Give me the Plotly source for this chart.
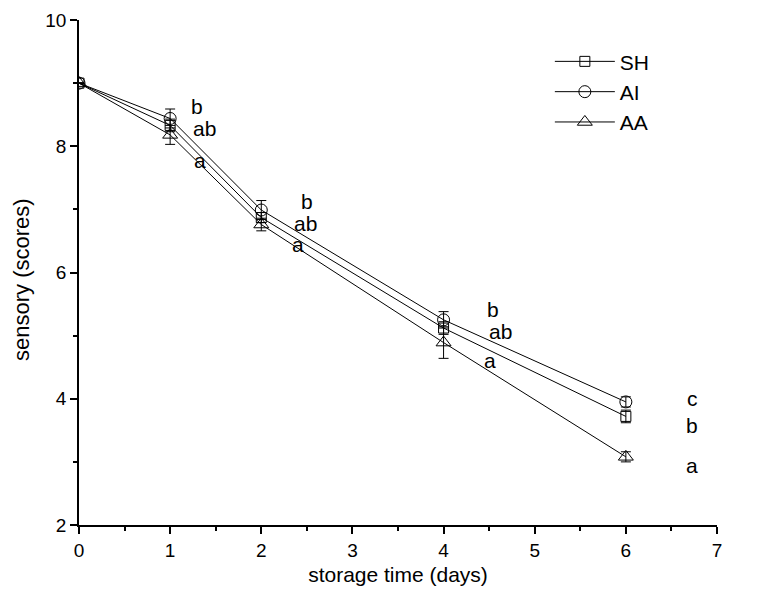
import plotly.graph_objects as go

days = [0, 1, 2, 4, 6]
series_names = ["SH", "AI", "AA"]
sh_vals = [9.0, 8.33, 6.87, 5.12, 3.72]
ai_vals = [9.0, 8.44, 6.99, 5.25, 3.95]
aa_vals = [9.0, 8.18, 6.76, 4.89, 3.08]
sh_err = [0.0, 0.10, 0.08, 0.10, 0.10]
ai_err = [0.0, 0.15, 0.15, 0.13, 0.08]
aa_err = [0.0, 0.15, 0.10, 0.25, 0.08]
symbols = ["square-open", "circle-open", "triangle-up-open"]
marker_sizes = [10, 12, 13]

letters = ["b", "ab", "a", "b", "ab", "a", "b", "ab", "a", "c", "b", "a"]
letter_x = [1.29, 1.38, 1.33, 2.50, 2.49, 2.40, 4.54, 4.62, 4.51, 6.73, 6.73, 6.73]
letter_y = [8.63, 8.28, 7.77, 7.13, 6.77, 6.44, 5.42, 5.06, 4.60, 4.01, 3.58, 2.95]

xticks = [0, 1, 2, 3, 4, 5, 6, 7]
yticks = [2, 4, 6, 8, 10]

FONT = "Liberation Sans, Arial"

fig = go.Figure()
for name, vals, err, sym, ms in zip(series_names, [sh_vals, ai_vals, aa_vals],
                                    [sh_err, ai_err, aa_err], symbols, marker_sizes):
    fig.add_trace(go.Scatter(
        x=days, y=vals, name=name, mode="lines+markers",
        line=dict(color="black", width=1),
        marker=dict(symbol=sym, size=ms, color="black", line=dict(width=1, color="black")),
        error_y=dict(type="data", array=err, visible=True, color="black", thickness=1, width=5),
    ))

for t, x, y in zip(letters, letter_x, letter_y):
    fig.add_annotation(x=x, y=y, text=t, showarrow=False,
                       font=dict(size=21, color="black", family=FONT))

# y-axis title as rotated text
fig.add_annotation(x=-0.091, y=0.487, xref="paper", yref="paper", text="sensory (scores)",
                   textangle=-90, showarrow=False, xanchor="center", yanchor="middle",
                   font=dict(size=22, color="black", family=FONT))

axis_common = dict(
    showline=True, linecolor="black", linewidth=1.5, showgrid=False, zeroline=False,
    ticks="outside", ticklen=7, tickwidth=1.5, tickcolor="black",
    tickfont=dict(size=19, color="black", family=FONT),
    mirror=False, automargin=False, ticklabeloverflow="allow",
)
fig.update_layout(
    width=773, height=591,
    margin=dict(l=71, r=64, t=12, b=74),
    paper_bgcolor="white", plot_bgcolor="white",
    font=dict(family=FONT, color="black"),
    xaxis=dict(range=[0, 7], tickvals=xticks,
               minor=dict(dtick=0.5, ticks="outside", ticklen=4, tickwidth=1.5, tickcolor="black"),
               title=dict(text="storage time (days)", font=dict(size=21), standoff=8),
               **axis_common),
    yaxis=dict(range=[2, 10], tickvals=yticks,
               minor=dict(dtick=1, ticks="outside", ticklen=4, tickwidth=1.5, tickcolor="black"),
               **axis_common),
    legend=dict(x=0.738, y=0.958, xanchor="left", yanchor="top",
                font=dict(size=21, color="black"), bgcolor="rgba(0,0,0,0)",
                itemwidth=60, tracegroupgap=0),
    showlegend=True,
)
fig.write_html("out.html")
